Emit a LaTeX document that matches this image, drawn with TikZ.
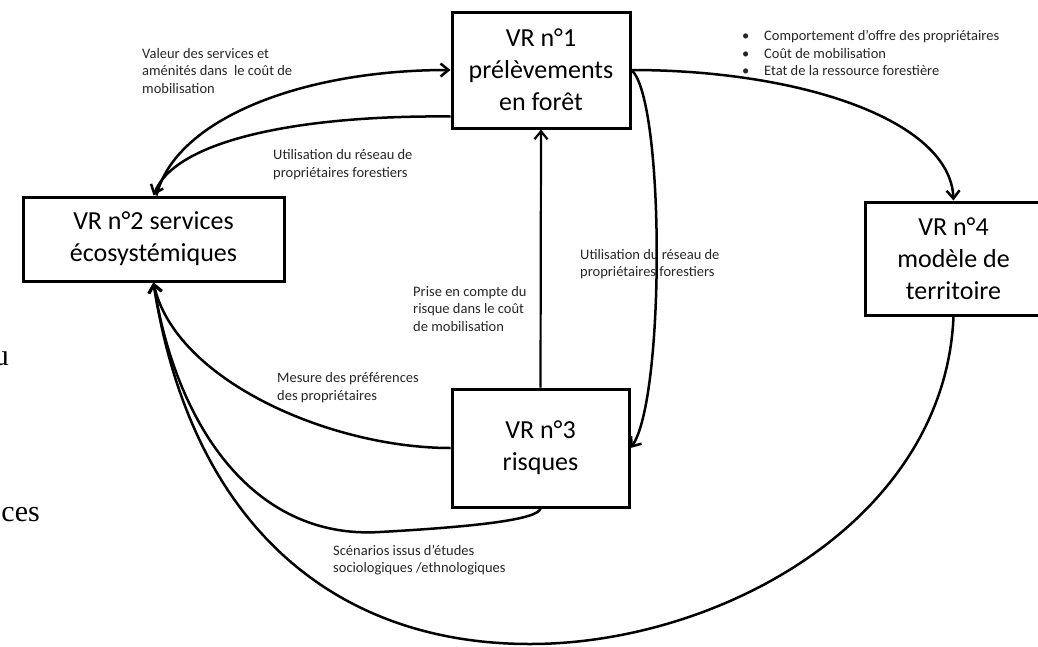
\documentclass[tikz,border=0pt]{standalone}
\usepackage{fontspec}
\setmainfont{Carlito}
\newfontfamily\serifx{Liberation Serif}
\usetikzlibrary{arrows.meta}
\begin{document}
\begin{tikzpicture}[x=1pt,y=-1pt,
  box/.style={draw, line width=3pt, align=center, inner sep=0pt,
    font=\fontsize{26}{32}\selectfont},
  lab/.style={align=left, inner sep=0pt, anchor=west, text=black!85,
    font=\fontsize{14.5}{17.5}\selectfont},
  stray/.style={inner sep=0pt, anchor=base east, font=\serifx\fontsize{30}{36}\selectfont},
  conn/.style={line width=2.5pt},
  arr/.style={conn, -{Straight Barb[length=8pt,width=13pt]}}]
\useasboundingbox (0,0) rectangle (1038,646);
\clip (0,0) rectangle (1038,646);

% boxes
\node[box, minimum width=178pt, minimum height=116pt] (b1) at (541,70) {VR n°1\\prélèvements\\en forêt};
\node[box, minimum width=261pt, minimum height=84pt] (b2) at (153.5,239) {VR n°2 services\\écosystémiques};
\node[box, minimum width=177pt, minimum height=118pt] (b3) at (540.5,448) {VR n°3\\risques};
\node[box, minimum width=177pt, minimum height=113pt] (b4) at (953.5,258.5) {VR n°4\\modèle de\\territoire};

% stray text at the left edge
\node[stray] (su) at (9,365) {u};
\node[stray] (sc) at (40,521) {ces};

% labels
\node[lab] (la) at (142,71) {Valeur des services et\\aménités dans\ \ le coût de\\mobilisation};
\node[lab] (lb) at (273,164.5) {Utilisation du réseau de\\propriétaires forestiers};
\node[lab] (lc) at (413,309) {Prise en compte du\\risque dans le coût\\de mobilisation};
\node[lab] (ld) at (580,264) {Utilisation du réseau de\\propriétaires forestiers};
\node[lab] (lf) at (277,387.5) {Mesure des préférences\\des propriétaires};
\node[lab] (lg) at (333,560) {Scénarios issus d’études\\sociologiques /ethnologiques};
\node[lab] (le) at (742,53) {\makebox[22pt][l]{•}Comportement d’offre des propriétaires\\
  \makebox[22pt][l]{•}Coût de mobilisation\\
  \makebox[22pt][l]{•}Etat de la ressource forestière};

% connectors
\draw[arr] ([xshift=3pt]b2.north) .. controls (175,120) and (300,70) .. (b1.west);
\draw[arr] ([yshift=13pt]b1.south west) .. controls (300,115) and (175,140) .. (b2.north);
\draw[arr, line width=2.2pt] (b3.north) -- (b1.south);
\draw[arr] (b1.east) .. controls (665,100) and (665,400) .. (b3.east);
\draw[arr] (b1.east) .. controls (800,70) and (950,120) .. (b4.north);
\draw[arr] (b3.west) .. controls (330,448) and (175,380) .. (b2.south);
\draw[arr] (b3.south) .. controls (538,520) and (470,527) .. (380,532)
   .. controls (250,540) and (175,420) .. (b2.south);
\draw[arr] (b4.south) .. controls (945,520) and (720,644) .. (530,644)
   .. controls (330,644) and (190,520) .. (b2.south);
\end{tikzpicture}
\end{document}
